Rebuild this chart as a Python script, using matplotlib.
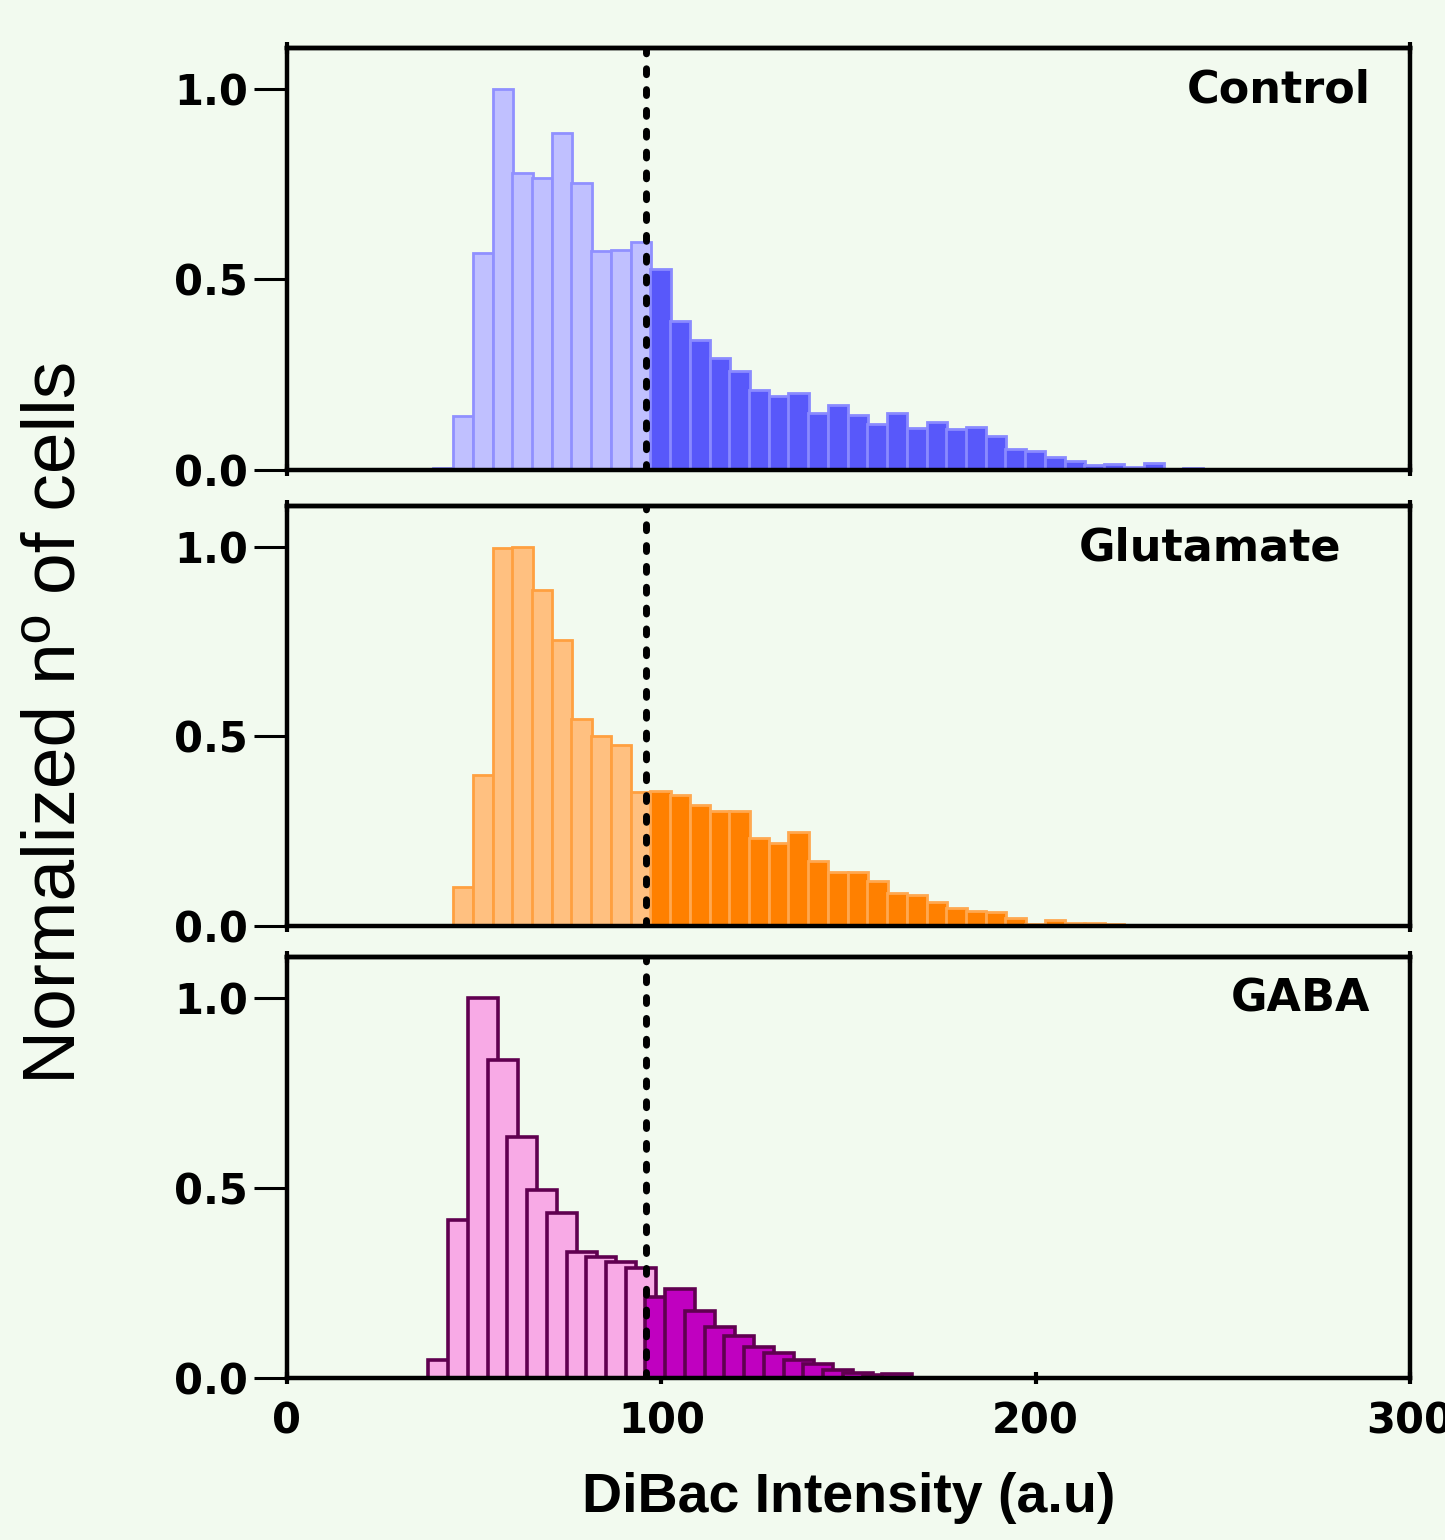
import matplotlib
matplotlib.use('Agg')
import matplotlib.pyplot as plt
import numpy as np

# histogram bins (DiBac intensity, a.u.)
bin_width = 5.27
ctrl_start = 39.1
glu_start = 39.1
gaba_start = 37.8
gaba_bar_width = 8.0
cutoff = 96.0  # dotted threshold line
split_bin = 11  # first bin drawn dark (right of the threshold)

control = [0.005, 0.142, 0.569, 1.0, 0.779, 0.766, 0.884, 0.754, 0.575, 0.577,
           0.599, 0.527, 0.391, 0.341, 0.295, 0.260, 0.210, 0.195, 0.203, 0.150,
           0.171, 0.144, 0.120, 0.150, 0.111, 0.127, 0.107, 0.114, 0.089, 0.054,
           0.051, 0.033, 0.024, 0.013, 0.016, 0.009, 0.018, 0.0, 0.004, 0.0,
           0.0, 0.002, 0.002]
glutamate = [0.003, 0.103, 0.398, 0.996, 1.0, 0.887, 0.754, 0.545, 0.500, 0.477,
             0.354, 0.356, 0.345, 0.320, 0.303, 0.303, 0.232, 0.218, 0.248, 0.172,
             0.143, 0.143, 0.119, 0.086, 0.081, 0.062, 0.047, 0.040, 0.038, 0.020,
             0.006, 0.015, 0.008, 0.008, 0.005, 0.002]
gaba = [0.047, 0.415, 1.0, 0.835, 0.633, 0.495, 0.435, 0.332, 0.317, 0.304,
        0.288, 0.213, 0.233, 0.177, 0.135, 0.111, 0.082, 0.066, 0.047, 0.037,
        0.021, 0.012, 0.008, 0.010]

labels = ['Control', 'Glutamate', 'GABA']
label_x = [0.965, 0.939, 0.965]
xticks = [0, 100, 200, 300]
yticks = [0.0, 0.5, 1.0]

bg = '#f2faef'
panels = [
    dict(vals=control, start=ctrl_start, width=bin_width + 0.15,
         light=('#c0c0ff', '#9090ff'), dark=('#5858fa', '#8a8aff'), lw=2.0),
    dict(vals=glutamate, start=glu_start, width=bin_width + 0.15,
         light=('#ffc080', '#ffa040'), dark=('#ff8000', '#ffa850'), lw=2.0),
    dict(vals=gaba, start=gaba_start, width=gaba_bar_width,
         light=('#f8aae6', '#600050'), dark=('#c000c0', '#600050'), lw=2.6),
]

fig = plt.figure(figsize=(14.45, 15.4), dpi=100, facecolor=bg)
boxes = [(0.6948, 0.2740), (0.3987, 0.2727), (0.1052, 0.2734)]
left, width = 0.1986, 0.7772

tick_font = dict(family='DejaVu Sans', weight='bold', size=30)

for i, (p, (b, h)) in enumerate(zip(panels, boxes)):
    ax = fig.add_axes([left, b, width, h])
    ax.set_facecolor(bg)
    vals = np.array(p['vals'])
    lefts = p['start'] + bin_width * np.arange(len(vals))
    for j in range(len(vals)):
        fc, ec = p['light'] if j < split_bin else p['dark']
        ax.bar(lefts[j], vals[j], width=p['width'], align='edge',
               color=fc, edgecolor=ec, linewidth=p['lw'], zorder=2)
    ax.axvline(cutoff, color='black', linestyle=(0, (0.85, 2.15)), linewidth=5,
               dash_capstyle='round', zorder=3)
    ax.set_xlim(0, 300)
    ax.set_ylim(0, 1.107)
    ax.set_yticks(yticks)
    ax.set_yticklabels(['%.1f' % v for v in yticks], fontdict=tick_font)
    if i == 2:
        ax.set_xticks(xticks)
        ax.set_xticklabels([str(v) for v in xticks], fontdict=tick_font)
    else:
        ax.set_xticks([0, 300])
        ax.set_xticklabels([])
    ax.tick_params(axis='y', direction='out', length=24, width=2.2, pad=4)
    ax.tick_params(axis='x', direction='inout', length=9, width=3, pad=12)
    # small corner marks on the top frame
    top = ax.secondary_xaxis('top')
    top.set_xticks([0, 300])
    top.set_xticklabels([])
    top.tick_params(direction='inout', length=9, width=3)
    for s in list(ax.spines.values()) + list(top.spines.values()):
        s.set_linewidth(3.2)
        s.set_color('black')
    ax.text(label_x[i], 0.90, labels[i], transform=ax.transAxes, ha='right',
            va='center', fontsize=32, fontweight='bold', family='DejaVu Sans')

fig.text(0.038, 0.531, 'Normalized n\u00ba of cells', rotation=90,
         ha='center', va='center', fontsize=54,
         family=['Liberation Sans', 'DejaVu Sans'])
fig.text(0.5875, 0.027, 'DiBac Intensity (a.u)', ha='center', va='center',
         fontsize=40, fontweight='bold',
         family=['Liberation Sans', 'DejaVu Sans'])

fig.savefig('out.png', dpi=100, facecolor=bg)
